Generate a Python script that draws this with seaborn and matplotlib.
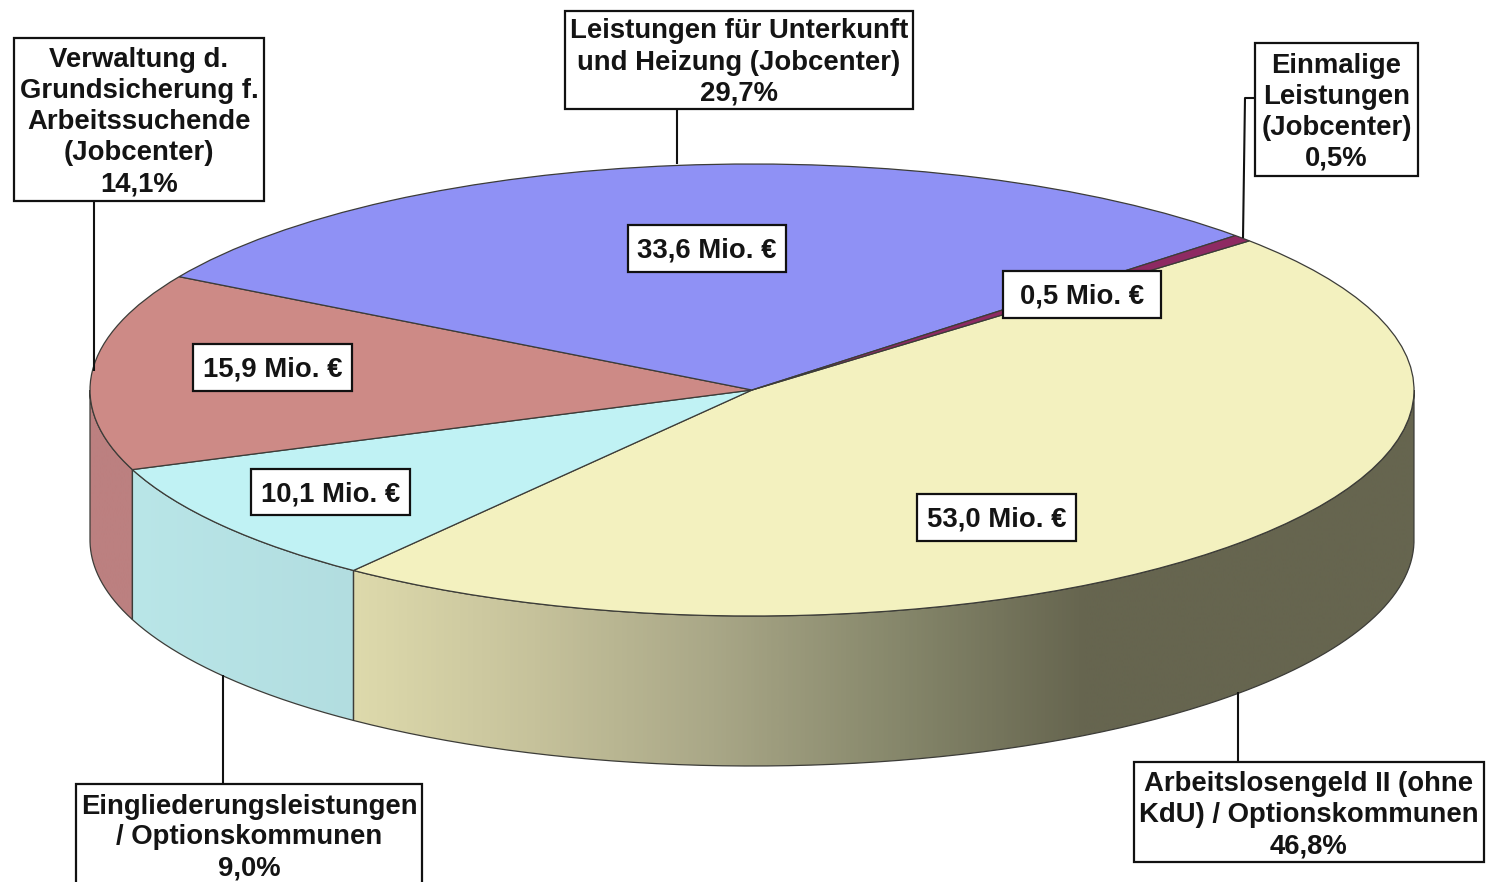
import numpy as np
import matplotlib
matplotlib.use("Agg")
import matplotlib.pyplot as plt
from matplotlib.colors import LinearSegmentedColormap
from matplotlib.patches import PathPatch, Rectangle
from matplotlib.path import Path
from matplotlib.transforms import Affine2D
import seaborn as sns

# ---------- data ----------
categories = ["Arbeitslosengeld II (ohne\nKdU) / Optionskommunen",
              "Eingliederungsleistungen\n/ Optionskommunen",
              "Verwaltung d.\nGrundsicherung f.\nArbeitssuchende\n(Jobcenter)",
              "Leistungen für Unterkunft\nund Heizung (Jobcenter)",
              "Einmalige\nLeistungen\n(Jobcenter)"]
share_values = [46.8, 9.0, 14.1, 29.7, 0.5]
share_labels = ["46,8%", "9,0%", "14,1%", "29,7%", "0,5%"]
value_labels = ["53,0 Mio. €", "10,1 Mio. €", "15,9 Mio. €", "33,6 Mio. €", "0,5 Mio. €"]

# ---------- style / layout ----------
top_colors = ["#F3F1BF", "#C0F2F4", "#CD8A86", "#8F91F5", "#8E2A62"]
side_stops = [
    [(0, "#DEDAAC"), (0.17, "#C6C29B"), (0.34, "#A9A787"), (0.52, "#85866A"),
     (0.69, "#66654F"), (1, "#66654F")],
    [(0, "#B9E6E8"), (1, "#B2DDE0")],
    [(0, "#BC8080"), (1, "#BC8080")],
    [(0, "#808080"), (1, "#808080")],
    [(0, "#808080"), (1, "#808080")],
]
side_spans = [(345, 1420), (125, 360), (85, 140), (0, 1), (0, 1)]
CX, CY, RX, RY, DEPTH = 752, 390, 662, 226, 150
START = 41.3
share_boxes = [(1134, 762, 350, 100), (76, 784, 346, 110), (14, 38, 250, 163),
               (565, 11, 348, 98), (1255, 43, 163, 133)]
share_text_y = [815, 837.5, 122, 62.5, 112.5]
value_boxes = [(917, 494, 159, 47), (251, 469, 159, 46), (193, 344, 159, 47),
               (628, 225, 158, 47), (1003, 271, 158, 47)]
leaders = [[(1238, 762), (1238, 692)], [(223, 784), (223, 675)], [(94, 201), (94, 371)],
           [(677, 109), (677, 164)], [(1255, 98), (1245, 98), (1243, 238)]]
TXT = "#141414"
EDGE = "#3C3C38"

sns.set_theme(style="white")
plt.rcParams["font.family"] = ["Liberation Sans", "DejaVu Sans"]
palette = sns.color_palette(top_colors)

fig = plt.figure(figsize=(14.88, 8.82), dpi=100, facecolor="white")
ax = fig.add_axes([0, 0, 1, 1])

wedges, _ = ax.pie(share_values, colors=palette, startangle=START, counterclock=False,
                   wedgeprops=dict(edgecolor=EDGE, linewidth=0.9))
ellipse = Affine2D().scale(RX, -RY).translate(CX, CY) + ax.transData
for w in wedges:
    w.set_transform(ellipse)
    w.set_zorder(3)
ax.set_aspect("auto")
ax.set_xlim(0, 1488)
ax.set_ylim(882, 0)
ax.set_axis_off()

# visible rim: every wedge part that lies on the front half of the ellipse
for w, stops, span in zip(wedges, side_stops, side_spans):
    lo, hi = max(w.theta1, -180), min(w.theta2, 0)
    if hi <= lo:
        continue
    t = np.radians(np.linspace(lo, hi, 200))
    xs = CX + RX * np.cos(t)
    ys = CY - RY * np.sin(t)
    verts = np.r_[np.c_[xs, ys], np.c_[xs[::-1], ys[::-1] + DEPTH], [[xs[0], ys[0]]]]
    clip = PathPatch(Path(verts), facecolor="none", edgecolor=EDGE, linewidth=0.9,
                     zorder=2, transform=ax.transData)
    ax.add_patch(clip)
    cmap = LinearSegmentedColormap.from_list("rim", stops)
    frac = (np.linspace(0, 1, 1024))
    if span[0] == 345:
        # gradient stops are measured from the yellow rim's real left edge
        frac = frac * (span[1] - span[0]) / (1415 - 352) - 7 / 1063
    im = ax.imshow(np.clip(frac, 0, 1)[None, :], cmap=cmap, vmin=0, vmax=1, aspect="auto",
                   extent=(span[0], span[1], 800, 300), zorder=1, interpolation="bilinear")
    im.set_clip_path(clip)
ax.set_xlim(0, 1488)
ax.set_ylim(882, 0)

for pts in leaders:
    xy = np.array(pts)
    ax.plot(xy[:, 0], xy[:, 1], color="#111111", lw=1.5, zorder=4, solid_capstyle="butt")


def boxed(x, y, w, h, txt, cy):
    ax.add_patch(Rectangle((x, y), w, h, facecolor="white", edgecolor="#111111",
                           linewidth=1.6, zorder=5))
    ax.text(x + w / 2, cy, txt, ha="center", va="center",
            multialignment="center", fontsize=19.8, fontweight="bold", color=TXT,
            linespacing=1.25, zorder=6)


for box, cat, share, ty in zip(share_boxes, categories, share_labels, share_text_y):
    boxed(*box, f"{cat}\n{share}", ty)
for box, lab in zip(value_boxes, value_labels):
    boxed(*box, lab, box[1] + box[3] / 2 + 2)

fig.savefig("out.png", dpi=100, facecolor="white")
